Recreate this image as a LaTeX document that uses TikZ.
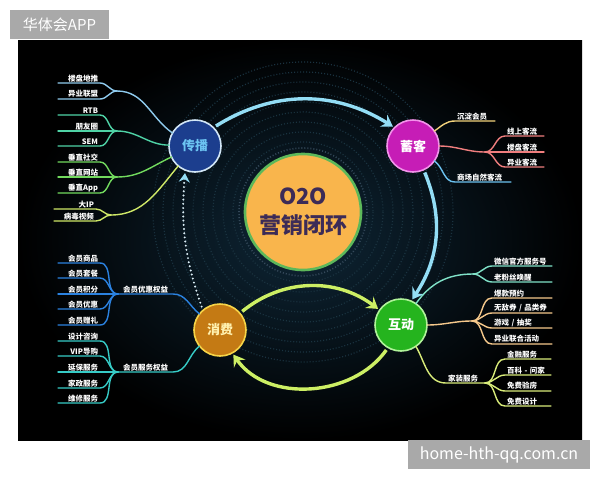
\documentclass[tikz,border=0pt]{standalone}
\usepackage{fontspec}
\setmainfont{Noto Sans CJK SC}
\usepackage{tikz}
\usetikzlibrary{calc, arrows, arrows.meta, positioning}

\definecolor{bgnavy}{HTML}{0E2636}
\definecolor{wmgray}{HTML}{A9A9A9}
\definecolor{corefill}{HTML}{F9B54C}
\definecolor{coreedge}{HTML}{5DB85A}
\definecolor{coretext}{HTML}{3C2B57}
\definecolor{ringdot}{HTML}{34495A}
\definecolor{texdot}{HTML}{1A3340}
\definecolor{cbfill}{HTML}{1C3E8E}
\definecolor{cbedge}{HTML}{D2E6F6}
\definecolor{cbtext}{HTML}{6CC4F2}
\definecolor{xkfill}{HTML}{C61DB6}
\definecolor{xkedge}{HTML}{F293EA}
\definecolor{hdfill}{HTML}{25B41E}
\definecolor{hdedge}{HTML}{B0F39A}
\definecolor{xffill}{HTML}{C47A14}
\definecolor{xfedge}{HTML}{F7D447}
\definecolor{xftext}{HTML}{FFF1B0}
\definecolor{flowcyan}{HTML}{93DDF5}
\definecolor{flowlime}{HTML}{CDEF64}
\definecolor{dotwhite}{HTML}{DCEFF7}
% branch colours
\definecolor{brsky}{HTML}{8FCBEE}
\definecolor{brteal}{HTML}{4FD3A6}
\definecolor{brgreen}{HTML}{72DA5E}
\definecolor{brlime}{HTML}{CFE867}
\definecolor{brblue}{HTML}{2B82E0}
\definecolor{brcyan}{HTML}{36CBC6}
\definecolor{brgold}{HTML}{F3D37C}
\definecolor{brsalmon}{HTML}{F07E7E}
\definecolor{brazure}{HTML}{6CC2F0}
\definecolor{brmint}{HTML}{80E2C8}
\definecolor{brpeach}{HTML}{F6C98C}
\definecolor{brpale}{HTML}{D9EC7A}

\begin{document}
\begin{tikzpicture}[x=1pt, y=-1pt, outer sep=0pt]

\tikzstyle{leaf}=[text=white, font=\fontsize{7.5}{8}\selectfont\bfseries, inner xsep=2pt, inner ysep=1.2pt]
\tikzstyle{lleaf}=[leaf, anchor=south east, text width=38pt, align=right]
\tikzstyle{rleaf}=[leaf, anchor=south west, align=left]
\tikzstyle{midleaf}=[leaf, anchor=south west, inner xsep=5pt]
\tikzstyle{hub}=[circle, minimum size=52pt, line width=1.6pt, inner sep=0pt, font=\fontsize{13}{14}\selectfont\bfseries]
\tikzstyle{branch}=[line width=1.4pt, line cap=round]
\tikzstyle{flow}=[line width=3.4pt, -{Stealth[length=11pt, width=14pt, inset=4pt]}, shorten <=3pt, shorten >=2pt]
\tikzstyle{wmbox}=[fill=wmgray, text=white, anchor=north west, inner sep=0pt]

\useasboundingbox (0,0) rectangle (600,480);
\fill[white] (0,0) rectangle (600,480);
\shade[inner color=bgnavy, outer color=black] (18,40) rectangle (582,440);

% watermarks
\node[wmbox, minimum width=99pt, minimum height=29pt, font=\fontsize{15}{15}\selectfont] (wmtop) at (10,10) {华体会APP};
\node[wmbox, minimum width=182pt, minimum height=29pt, font=\fontsize{16}{16}\selectfont] (wmbot) at (408,440) {home-hth-qq.com.cn};

% core
\foreach \r in {70,80,...,150}
  \draw[texdot, line width=1.2pt, dash pattern=on 1pt off 2pt] (303,212) circle (\r);
\node[circle, minimum size=116pt, fill=corefill, draw=coreedge, line width=2.6pt, text=coretext,
      align=center, font=\fontsize{22}{29}\selectfont\bfseries] (core) at (303,212) {O2O\\营销闭环};
\draw[ringdot, line width=1.6pt, dash pattern=on 1pt off 2pt] (core.center) circle (64);

% hubs
\node[hub, fill=cbfill, draw=cbedge, text=cbtext] (chuanbo) at (195,146) {传播};
\node[hub, fill=xkfill, draw=xkedge, text=white] (xuke) at (413,146) {蓄客};
\node[hub, fill=hdfill, draw=hdedge, text=white] (hudong) at (401,325) {互动};
\node[hub, fill=xffill, draw=xfedge, text=xftext] (xiaofei) at (220,330) {消费};

% loop arrows
\draw[flow, flowcyan] (chuanbo.45) to[bend left=32] (xuke.135);
\draw[flow, flowcyan] (xuke.-66) to[bend left=28] (hudong.67);
\draw[flow, flowlime] (hudong.-120) to[out=-125, in=-55] (xiaofei.-62);
\draw[flow, flowlime] (xiaofei.40) to[bend left=38] (hudong.145);
\draw[line width=2.2pt, dotwhite, dash pattern=on 0pt off 4.2pt, line cap=round, shorten <=4pt, shorten >=3pt,
      -{Stealth[length=9pt, width=11pt, inset=3pt, flowcyan]}] (xiaofei.131) to[bend left=12] (chuanbo.-112);

% 传播
\node[lleaf] (cb1) at (100,83) {楼盘地推};
\node[lleaf] (cb2) at (100,99) {异业联盟};
\node[lleaf] (cb3) at (100,115) {RTB};
\node[lleaf] (cb4) at (100,131) {朋友圈};
\node[lleaf] (cb5) at (100,146) {SEM};
\node[lleaf] (cb6) at (100,162) {垂直社交};
\node[lleaf] (cb7) at (100,177) {垂直网站};
\node[lleaf] (cb8) at (100,193) {垂直App};
\node[lleaf] (cb9) at (96,209) {大IP};
\node[lleaf] (cb10) at (96,221) {病毒视频};
\coordinate (cbj1) at (117,91);
\coordinate (cbj2) at (117,131);
\coordinate (cbj3) at (117,177);
\coordinate (cbj4) at (111,215);
\foreach \n in {cb1,cb2} \draw[branch, brsky] (cbj1) to[out=180,in=0] (\n.south east) -- (\n.south west);
\foreach \n in {cb3,cb4,cb5} \draw[branch, brteal] (cbj2) to[out=180,in=0] (\n.south east) -- (\n.south west);
\foreach \n in {cb6,cb7,cb8} \draw[branch, brgreen] (cbj3) to[out=180,in=0] (\n.south east) -- (\n.south west);
\foreach \n in {cb9,cb10} \draw[branch, brlime] (cbj4) to[out=180,in=0] (\n.south east) -- (\n.south west);
\draw[branch, brsky] (cbj1) to[out=0,in=145] (chuanbo.150);
\draw[branch, brteal] (cbj2) to[out=0,in=180] (chuanbo.178);
\draw[branch, brgreen] (cbj3) to[out=0,in=205] (chuanbo.205);
\draw[branch, brlime] (cbj4) to[out=0,in=230] (chuanbo.230);

% 消费
\node[lleaf] (xf1) at (100,263) {会员商品};
\node[lleaf] (xf2) at (100,278) {会员套餐};
\node[lleaf] (xf3) at (100,294) {会员积分};
\node[lleaf] (xf4) at (100,309) {会员优惠};
\node[lleaf] (xf5) at (100,325) {会员赠礼};
\node[lleaf] (xf6) at (100,341) {设计咨询};
\node[lleaf] (xf7) at (100,356) {VIP导购};
\node[lleaf] (xf8) at (100,372) {延保服务};
\node[lleaf] (xf9) at (100,388) {家政服务};
\node[lleaf] (xf10) at (100,403) {维修服务};
\coordinate (xfj1) at (118,294);
\coordinate (xfj2) at (118,372);
\node[midleaf] (xfq1) at (xfj1) {会员优惠权益};
\node[midleaf] (xfq2) at (xfj2) {会员服务权益};
\foreach \n in {xf1,xf2,xf3,xf4,xf5} \draw[branch, brblue] (xfj1) to[out=180,in=0] (\n.south east) -- (\n.south west);
\foreach \n in {xf6,xf7,xf8,xf9,xf10} \draw[branch, brcyan] (xfj2) to[out=180,in=0] (\n.south east) -- (\n.south west);
\draw[branch, brblue] (xfj1) -- (xfq1.south east) to[out=0,in=142] (xiaofei.142);
\draw[branch, brcyan] (xfj2) -- (xfq2.south east) to[out=0,in=218] (xiaofei.218);

% 蓄客
\node[rleaf, text width=36pt] (xk1) at (455,121) {沉淀会员};
\node[rleaf, text width=35pt] (xk2) at (505,136) {线上客流};
\node[rleaf, text width=35pt] (xk3) at (505,152) {楼盘客流};
\node[rleaf, text width=35pt] (xk4) at (505,167) {异业客流};
\node[rleaf, text width=52pt] (xk5) at (455,182) {商场自然客流};
\coordinate (xkj) at (485,152);
\draw[branch, brgold] (xuke.35) to[out=35,in=180] (xk1.south west) -- (xk1.south east);
\draw[branch, brsalmon] (xuke.east) to[out=0,in=180] (xkj);
\foreach \n in {xk2,xk3,xk4} \draw[branch, brsalmon] (xkj) to[out=0,in=180] (\n.south west) -- (\n.south east);
\draw[branch, brazure] (xuke.-35) to[out=-35,in=180] (xk5.south west) -- (xk5.south east);

% 互动
\node[rleaf, text width=56pt] (hd1) at (492,266) {微信官方服务号};
\node[rleaf, text width=56pt] (hd2) at (492,282) {老粉丝唤醒};
\node[rleaf, text width=56pt] (hd3) at (492,298) {爆款预约};
\node[rleaf, text width=56pt] (hd4) at (492,313) {无敌券 / 品类券};
\node[rleaf, text width=56pt] (hd5) at (492,328) {游戏 / 抽奖};
\node[rleaf, text width=56pt] (hd6) at (492,344) {异业联合活动};
\node[rleaf, text width=42pt] (hd7) at (505,359) {金融服务};
\node[rleaf, text width=42pt] (hd8) at (505,375) {百科 - 问家};
\node[rleaf, text width=42pt] (hd9) at (505,391) {免费验房};
\node[rleaf, text width=42pt] (hd10) at (505,406) {免费设计};
\coordinate (hdj1) at (473,274);
\coordinate (hdj2) at (472,321);
\coordinate (hdj3) at (485,383);
\node[midleaf, inner xsep=2pt] (hdm) at (446,383) {家装服务};
\draw[branch, brmint] (hudong.55) to[out=55,in=180] (hdj1);
\foreach \n in {hd1,hd2} \draw[branch, brmint] (hdj1) to[out=0,in=180] (\n.south west) -- (\n.south east);
\draw[branch, brpeach] (hudong.east) to[out=0,in=180] (hdj2);
\foreach \n in {hd3,hd4,hd5,hd6} \draw[branch, brpeach] (hdj2) to[out=0,in=180] (\n.south west) -- (\n.south east);
\draw[branch, brpale] (hudong.-55) to[out=-60,in=180] (hdm.south west) -- (hdj3);
\foreach \n in {hd7,hd8,hd9,hd10} \draw[branch, brpale] (hdj3) to[out=0,in=180] (\n.south west) -- (\n.south east);

\end{tikzpicture}
\end{document}
